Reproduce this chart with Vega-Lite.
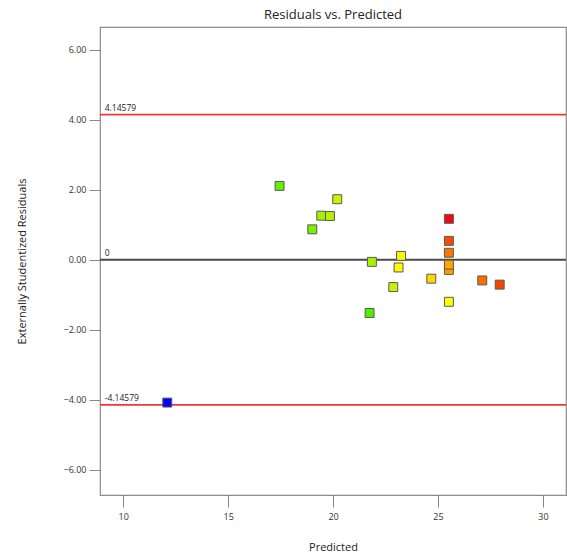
{
  "$schema": "https://vega.github.io/schema/vega-lite/v6.json",
  "autosize": "none",
  "padding": {"left": 100, "top": 27, "right": 1, "bottom": 61},
  "width": 466,
  "height": 468,
  "config": {
    "font": "Open Sans",
    "view": {"stroke": "#8c8c8c", "strokeWidth": 1.2},
    "axis": {"labelFont": "Open Sans", "titleFont": "Open Sans", "labelColor": "#333", "titleColor": "#222", "titleFontWeight": "normal", "grid": false, "domain": false, "tickColor": "#888"}
  },
  "title": {"text": "Residuals vs. Predicted", "fontSize": 13, "fontWeight": "normal", "font": "Open Sans", "color": "#222", "offset": 5},
  "datasets": {
    "points": [
      {"Predicted": 12.10, "Residual": -4.08, "Actual": 7},
      {"Predicted": 17.45, "Residual": 2.11, "Actual": 18.5},
      {"Predicted": 21.74, "Residual": -1.52, "Actual": 18.2},
      {"Predicted": 19.01, "Residual": 0.87, "Actual": 19},
      {"Predicted": 19.44, "Residual": 1.26, "Actual": 20.3},
      {"Predicted": 21.85, "Residual": -0.06, "Actual": 20.4},
      {"Predicted": 19.85, "Residual": 1.25, "Actual": 20.8},
      {"Predicted": 20.20, "Residual": 1.73, "Actual": 21.6},
      {"Predicted": 22.87, "Residual": -0.78, "Actual": 21.5},
      {"Predicted": 23.24, "Residual": 0.11, "Actual": 23.2},
      {"Predicted": 23.12, "Residual": -0.22, "Actual": 23.1},
      {"Predicted": 25.52, "Residual": -1.20, "Actual": 23.0},
      {"Predicted": 24.68, "Residual": -0.54, "Actual": 23.8},
      {"Predicted": 25.52, "Residual": -0.29, "Actual": 24.9},
      {"Predicted": 25.52, "Residual": -0.14, "Actual": 24.8},
      {"Predicted": 25.52, "Residual": 0.20, "Actual": 26.4},
      {"Predicted": 27.11, "Residual": -0.59, "Actual": 26.7},
      {"Predicted": 25.52, "Residual": 0.54, "Actual": 27.8},
      {"Predicted": 27.94, "Residual": -0.71, "Actual": 28.0},
      {"Predicted": 25.52, "Residual": 1.17, "Actual": 29}
    ],
    "lines": [
      {"value": 4.14579, "label": "4.14579", "kind": "limit"},
      {"value": 0, "label": "0", "kind": "zero"},
      {"value": -4.14579, "label": "-4.14579", "kind": "limit"}
    ]
  },
  "layer": [
    {
      "data": {"name": "lines"},
      "mark": {"type": "rule", "strokeWidth": 1.8},
      "encoding": {
        "y": {"field": "value", "type": "quantitative", "scale": {"domain": [-6.72, 6.65], "nice": false, "zero": false},
          "axis": {"values": [-6, -4, -2, 0, 2, 4, 6], "format": ".2f", "tickSize": 11, "labelPadding": 3, "labelFontSize": 9, "title": "Externally Studentized Residuals", "titleFontSize": 11, "titlePadding": 36}},
        "color": {"field": "kind", "type": "nominal", "scale": {"domain": ["limit", "zero"], "range": ["#e8393c", "#4a4a4a"]}, "legend": null}
      }
    },
    {
      "data": {"name": "lines"},
      "mark": {"type": "text", "align": "left", "baseline": "bottom", "fontSize": 8.5, "color": "#222", "dy": -2},
      "encoding": {
        "x": {"datum": 9.12, "type": "quantitative"},
        "y": {"field": "value", "type": "quantitative"},
        "text": {"field": "label"}
      }
    },
    {
      "data": {"name": "points"},
      "mark": {"type": "point", "shape": "square", "filled": true, "size": 80, "opacity": 1, "stroke": "#5a5a5a", "strokeWidth": 1},
      "encoding": {
        "x": {"field": "Predicted", "type": "quantitative", "scale": {"domain": [8.894, 31.1], "nice": false, "zero": false},
          "axis": {"values": [10, 15, 20, 25, 30], "tickSize": 12, "labelPadding": 5, "labelFontSize": 9, "title": "Predicted", "titleFontSize": 11, "titlePadding": 20}},
        "y": {"field": "Residual", "type": "quantitative"},
        "color": {"field": "Actual", "type": "quantitative", "scale": {"domain": [7, 18, 21.5, 23, 25, 29], "range": ["#0000ff", "#44ee00", "#ccf000", "#ffff00", "#ff9900", "#ee0a0a"]}, "legend": null}
      }
    }
  ],
  "resolve": {"scale": {"color": "independent"}}
}
